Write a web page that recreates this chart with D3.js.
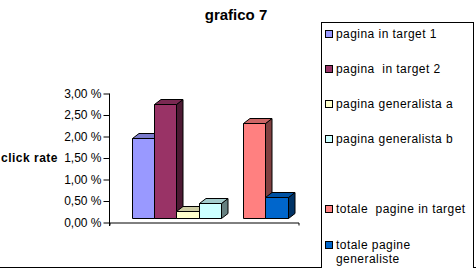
<!DOCTYPE html>
<html>
<head>
<meta charset="utf-8">
<script src="https://cdn.jsdelivr.net/npm/d3@7"></script>
<style>
  body { margin: 0; background: #fff; }
  svg { display: block; font-family: "Liberation Sans", Arial, sans-serif; }
</style>
</head>
<body>
<div id="chart"></div>
<script>
// series (one category, one empty slot between the two groups)
const seriesNames  = ["pagina in target 1", "pagina  in target 2", "pagina generalista a",
                      "pagina generalista b", "", "totale  pagine in target", "totale pagine generaliste"];
const seriesValues = [0.0185, 0.0266, 0.0017, 0.0034, null, 0.0222, 0.0049];
const seriesColors = ["#9999FF", "#993366", "#FFFFCC", "#CCFFFF", null, "#FF8080", "#0066CC"];
const tickValues   = [0, 0.005, 0.01, 0.015, 0.02, 0.025, 0.03];
const tickLabels   = ["0,00 %", "0,50 %", "1,00 %", "1,50 %", "2,00 %", "2,50 %", "3,00 %"];

const width  = 476;
const height = 268;
const depthX = 6.5, depthY = -5;   // 3d offset of the bar depth
const shiftY = -4.5;               // bars sit a little behind the front axis

const svg = d3.select("#chart").append("svg")
  .attr("width", width)
  .attr("height", height);

// title
svg.append("text")
  .attr("x", 236).attr("y", 20)
  .attr("text-anchor", "middle")
  .style("font-size", "15px").style("font-weight", "bold")
  .text("grafico 7");

// axis title
svg.append("text")
  .attr("x", 1).attr("y", 162)
  .style("font-size", "12px").style("font-weight", "bold")
  .style("letter-spacing", "0.5px")
  .text("click rate");

const y = d3.scaleLinear().domain([0, 0.03]).range([222.5, 93.5]);
const x = d3.scaleBand().domain(d3.range(seriesNames.length)).range([131.7, 287.7]);

// value axis
const yAxis = svg.append("g")
  .attr("transform", "translate(109.5,0)")
  .call(d3.axisLeft(y).tickValues(tickValues).tickSize(6).tickSizeOuter(0)
          .tickFormat((d, i) => tickLabels[i]));
yAxis.selectAll("text").style("font-size", "12px").style("font-family", "Liberation Sans, Arial, sans-serif")
  .attr("x", -8).attr("fill", "#000");
yAxis.selectAll("line, path").attr("stroke", "#000");
yAxis.select(".domain").attr("d", "M0,93.5V226");

// category axis
const xCat = d3.scaleBand().domain(["c"]).range([109.5, 298.5]);
const xAxis = svg.append("g")
  .attr("transform", "translate(0," + y(0) + ")")
  .call(d3.axisBottom(xCat).tickValues([]).tickSizeOuter(3));
xAxis.selectAll("path").attr("stroke", "#000");

// 3d bars, drawn left to right so each front hides the previous side
const shade = (c, k) => { const r = d3.rgb(c); return d3.rgb(r.r * k, r.g * k, r.b * k) + ""; };
const bars = svg.append("g").attr("stroke", "#000").attr("stroke-width", 1).attr("stroke-linejoin", "round");

seriesValues.forEach((v, i) => {
  if (v == null) return;
  const c  = seriesColors[i];
  const x0 = Math.round(x(i)) + 0.5;
  const x1 = Math.round(x(i) + x.bandwidth()) + 0.5;
  const y0 = Math.round(y(0) + shiftY) + 0.5;
  const y1 = Math.round(y(v) + shiftY) + 0.5;
  const g = bars.append("g");
  g.append("path") // side
    .attr("fill", shade(c, 0.5))
    .attr("d", `M${x1},${y1}L${x1 + depthX},${y1 + depthY}L${x1 + depthX},${y0 + depthY}L${x1},${y0}Z`);
  g.append("path") // top
    .attr("fill", shade(c, 0.8))
    .attr("d", `M${x0},${y1}L${x0 + depthX},${y1 + depthY}L${x1 + depthX},${y1 + depthY}L${x1},${y1}Z`);
  g.append("rect") // front
    .attr("fill", c)
    .attr("x", x0).attr("y", y1)
    .attr("width", x1 - x0).attr("height", y0 - y1);
});

// chart border bottom
svg.append("line")
  .attr("x1", 0).attr("x2", width).attr("y1", 267.5).attr("y2", 267.5)
  .attr("stroke", "#000");

// legend
const legend = svg.append("g");
legend.append("rect")
  .attr("x", 321.5).attr("y", 22.5).attr("width", 152).attr("height", 248)
  .attr("fill", "#fff").attr("stroke", "#000");

const rowY = d3.scaleLinear().domain([0, 6]).range([33.5, 244.5]);
seriesNames.forEach((name, i) => {
  if (!name) return;
  const cy = rowY(i);
  legend.append("rect")
    .attr("x", 325.5).attr("y", Math.round(cy - 4) + 0.5)
    .attr("width", 7).attr("height", 7)
    .attr("fill", seriesColors[i]).attr("stroke", "#000");
  const lines = name === "totale pagine generaliste" ? ["totale pagine", "generaliste"] : [name];
  lines.forEach((t, j) => {
    legend.append("text")
      .attr("x", 336).attr("y", cy + 4 + j * 14)
      .attr("xml:space", "preserve")
      .style("white-space", "pre")
      .style("font-size", "12px")
      .style("letter-spacing", "0.45px")
      .text(t);
  });
});
</script>
</body>
</html>
